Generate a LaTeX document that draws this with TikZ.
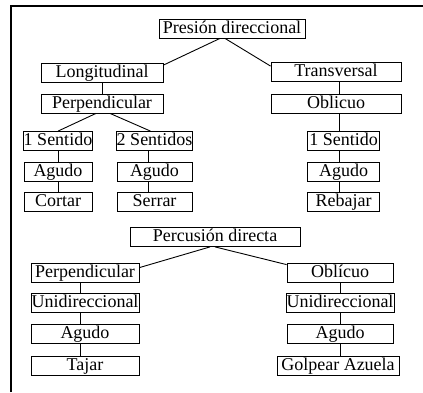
\documentclass[tikz,border=0pt]{standalone}
\usepackage{fontspec}
\setmainfont{Liberation Serif}
\usetikzlibrary{calc}
\tikzset{
  box/.style={draw=black,line width=0.8pt,inner xsep=0.5pt,inner ysep=1.5pt,
    text height=12.5pt,text depth=3.5pt,font=\fontsize{18}{20}\selectfont},
  link/.style={draw=black,line width=0.9pt},
  frame/.style={draw=black,line width=2pt},
}

\begin{document}
\begin{tikzpicture}[x=1pt,y=-1pt]
\useasboundingbox (0,0) rectangle (423,392);
\draw[frame] (11,392) -- (11,6) -- (423,6);
% column axes
\coordinate (colA) at (58,0);
\coordinate (colB) at (148,0);
\coordinate (colC) at (339.5,0);
\coordinate (colD) at (80,0);
\coordinate (colE) at (340,0);
% presion direccional
\node[box,minimum width=146pt] (pres) at (232,28.5) {Presión direccional};
\node[box,minimum width=122pt] (longi) at (102,73) {Longitudinal};
\node[box,minimum width=130pt] (trans) at (336,72) {Transversal};
\node[box,minimum width=122pt] (perpA) at (102,103.5) {Perpendicular};
\node[box,minimum width=130pt] (obliA) at (336,103.5) {Oblicuo};
\node[box,minimum width=68pt] (sentA) at (58,141) {1 Sentido};
\node[box,minimum width=75pt] (sentB) at (154.5,141) {2 Sentidos};
\node[box,minimum width=72pt] (sentC) at (343.5,141) {1 Sentido};
\node[box,minimum width=68pt] (agA) at (58,171.5) {Agudo};
\node[box,minimum width=75pt] (agB) at (154.5,171.5) {Agudo};
\node[box,minimum width=72pt] (agC) at (343.5,171.5) {Agudo};
\node[box,minimum width=68pt] (cortar) at (58,202) {Cortar};
\node[box,minimum width=75pt] (serrar) at (154.5,202) {Serrar};
\node[box,minimum width=72pt] (rebajar) at (343.5,202) {Rebajar};
% percusion directa
\node[box,minimum width=170pt] (perc) at (215,237) {Percusión directa};
\node[box,minimum width=108pt] (perpB) at (85,272.5) {Perpendicular};
\node[box,minimum width=106pt] (obliB) at (340,272.5) {Oblícuo};
\node[box,minimum width=108pt] (uniA) at (85,303) {Unidireccional};
\node[box,minimum width=106pt] (uniB) at (340,303) {Unidireccional};
\node[box,minimum width=108pt] (agD) at (85,334) {Agudo};
\node[box,minimum width=106pt] (agE) at (340,334) {Agudo};
\node[box,minimum width=108pt] (tajar) at (85,365.5) {Tajar};
\node[box,minimum width=122pt] (golpe) at (338,365.5) {Golpear Azuela};
% links
\draw[link] ([xshift=-12pt]pres.south) -- ([yshift=-2pt]longi.north east);
\draw[link] ([xshift=-7pt]pres.south) -- ([yshift=-4pt]trans.north west);
\draw[link] (longi.south) -- (perpA.north);
\draw[link] ([xshift=-6pt]perpA.south) -- (sentA.north);
\draw[link] ([xshift=8pt]perpA.south) -- ([xshift=-4pt]sentB.north);
\draw[link] ([xshift=-5pt]perc.south) -- ([yshift=-5pt]perpB.north east);
\draw[link] (perc.south) -- ([yshift=-2pt]obliB.north west);
\foreach \a/\b/\c in {sentA/agA/colA,agA/cortar/colA,sentB/agB/colB,agB/serrar/colB,
  trans/obliA/colC,obliA/sentC/colC,sentC/agC/colC,agC/rebajar/colC,
  perpB/uniA/colD,uniA/agD/colD,agD/tajar/colD,
  obliB/uniB/colE,uniB/agE/colE,agE/golpe/colE}
  \draw[link] (\a.south -| \c) -- (\b.north -| \c);
\end{tikzpicture}
\end{document}
